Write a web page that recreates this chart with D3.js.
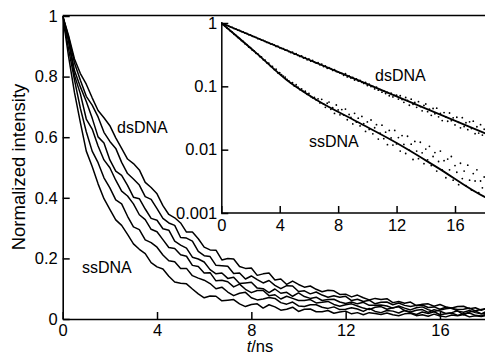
<!DOCTYPE html>
<html><head><meta charset="utf-8">
<script src="https://cdn.jsdelivr.net/npm/d3@7"></script>
<style>body{margin:0;background:#fff}svg{display:block}text{font-family:"Liberation Sans",Arial,sans-serif;fill:#000}</style>
</head><body><svg id="c" width="485" height="355"></svg>
<script>
// time axis of the main panel (ns), 0.25 ns sampling
const times = [0,0.25,0.5,0.75,1,1.25,1.5,1.75,2,2.25,2.5,2.75,3,3.25,3.5,3.75,4,4.25,4.5,4.75,5,5.25,5.5,5.75,6,6.25,6.5,6.75,7,7.25,7.5,7.75,8,8.25,8.5,8.75,9,9.25,9.5,9.75,10,10.25,10.5,10.75,11,11.25,11.5,11.75,12,12.25,12.5,12.75,13,13.25,13.5,13.75,14,14.25,14.5,14.75,15,15.25,15.5,15.75,16,16.25,16.5,16.75,17,17.25,17.5,17.75,18,18.25,18.5];

// main panel decays (dsDNA at top ... ssDNA at bottom)
const decayA = [1,.935,.858,.81,.775,.73,.688,.664,.638,.598,.563,.528,.513,.492,.451,.434,.413,.374,.345,.334,.317,.287,.287,.265,.237,.228,.227,.195,.2,.198,.173,.167,.168,.144,.149,.152,.129,.132,.114,.125,.114,.105,.109,.098,.09,.095,.093,.081,.082,.073,.079,.07,.063,.068,.064,.067,.054,.058,.052,.056,.044,.049,.05,.042,.048,.04,.036,.041,.042,.034,.037,.029,.035,.032,.028];
const decayB = [1,.93,.845,.788,.735,.706,.667,.616,.586,.563,.517,.48,.462,.442,.404,.395,.364,.332,.317,.309,.269,.267,.257,.223,.209,.206,.177,.176,.174,.15,.152,.132,.142,.13,.119,.127,.111,.1,.11,.109,.091,.093,.083,.089,.079,.072,.077,.072,.075,.061,.065,.058,.062,.05,.055,.056,.047,.053,.045,.041,.045,.046,.038,.04,.032,.039,.035,.031,.032,.036,.027,.031,.035,.026,.021];
const decayC = [1,.921,.82,.766,.718,.663,.601,.581,.525,.488,.474,.441,.402,.397,.363,.332,.326,.298,.293,.257,.244,.234,.204,.198,.188,.163,.149,.152,.134,.138,.117,.119,.121,.102,.1,.087,.099,.085,.088,.075,.086,.074,.068,.072,.061,.064,.065,.056,.051,.056,.05,.055,.045,.045,.046,.043,.036,.043,.036,.03,.037,.04,.031,.025,.03,.034,.036,.026,.022,.028,.021,.017,.026,.029,.021];
const decayD = [1,.916,.804,.743,.66,.627,.571,.525,.499,.458,.422,.406,.38,.344,.328,.296,.288,.262,.236,.233,.212,.207,.177,.173,.152,.153,.126,.128,.123,.106,.115,.098,.087,.094,.094,.077,.08,.066,.075,.068,.061,.061,.064,.053,.055,.058,.048,.042,.047,.05,.043,.036,.031,.039,.041,.032,.037,.04,.028,.023,.029,.031,.022,.031,.026,.018,.021,.027,.014,.023,.027,.017,.017,.023,.012];
const decayE = [1,.891,.789,.695,.618,.554,.516,.466,.433,.393,.38,.339,.304,.295,.261,.252,.237,.211,.192,.189,.167,.167,.143,.135,.128,.117,.1,.105,.089,.077,.085,.088,.07,.063,.066,.071,.068,.054,.049,.056,.043,.041,.047,.047,.039,.035,.04,.031,.032,.037,.033,.025,.035,.025,.021,.028,.026,.02,.028,.021,.015,.023,.018,.024,.014,.017,.02,.012,.017,.02,.012,.01,.016,.012,.017];
const decayF = [1,.866,.747,.648,.554,.503,.446,.397,.362,.327,.309,.279,.248,.23,.216,.186,.172,.165,.141,.122,.118,.116,.099,.083,.07,.076,.075,.06,.062,.064,.05,.041,.048,.05,.036,.047,.04,.029,.032,.039,.025,.032,.033,.024,.024,.028,.019,.023,.026,.017,.021,.014,.021,.018,.015,.02,.014,.011,.017,.019,.011,.014,.009,.016,.01,.007,.013,.011,.015,.007,.011,.008,.012,.004,.009];
const mainSeries = [decayA, decayB, decayC, decayD, decayE, decayF];

// inset (log scale): measured points at 0.125 ns sampling and fitted curves
const insetTimes = [0,0.125,0.25,0.375,0.5,0.625,0.75,0.875,1,1.125,1.25,1.375,1.5,1.625,1.75,1.875,2,2.125,2.25,2.375,2.5,2.625,2.75,2.875,3,3.125,3.25,3.375,3.5,3.625,3.75,3.875,4,4.125,4.25,4.375,4.5,4.625,4.75,4.875,5,5.125,5.25,5.375,5.5,5.625,5.75,5.875,6,6.125,6.25,6.375,6.5,6.625,6.75,6.875,7,7.125,7.25,7.375,7.5,7.625,7.75,7.875,8,8.125,8.25,8.375,8.5,8.625,8.75,8.875,9,9.125,9.25,9.375,9.5,9.625,9.75,9.875,10,10.125,10.25,10.375,10.5,10.625,10.75,10.875,11,11.125,11.25,11.375,11.5,11.625,11.75,11.875,12,12.125,12.25,12.375,12.5,12.625,12.75,12.875,13,13.125,13.25,13.375,13.5,13.625,13.75,13.875,14,14.125,14.25,14.375,14.5,14.625,14.75,14.875,15,15.125,15.25,15.375,15.5,15.625,15.75,15.875,16,16.125,16.25,16.375,16.5,16.625,16.75,16.875,17,17.125,17.25,17.375,17.5,17.625,17.75,17.875,18];
const dsPoints = [1,.97,.951,.915,.9,.866,.852,.818,.808,.773,.764,.731,.722,.69,.684,.655,.648,.618,.611,.594,.566,.562,.538,.533,.512,.494,.49,.468,.463,.452,.427,.431,.405,.397,.394,.373,.372,.355,.342,.348,.322,.327,.308,.297,.302,.28,.283,.262,.27,.25,.256,.24,.232,.236,.219,.225,.205,.21,.193,.197,.19,.178,.183,.171,.168,.162,.16,.149,.158,.141,.146,.135,.138,.126,.131,.121,.124,.116,.111,.115,.103,.108,.099,.1,.091,.097,.087,.089,.081,.085,.077,.08,.071,.078,.068,.072,.0723,.0629,.071,.062,.056,.0666,.06,.0503,.0628,.0519,.0558,.0466,.0573,.0479,.041,.0499,.0526,.0398,.0435,.0349,.0447,.0369,.0452,.033,.0375,.0288,.0385,.0328,.0281,.0379,.0287,.0318,.0246,.0325,.027,.0221,.032,.0232,.0266,.0207,.0275,.0216,.0282,.0179,.023,.0183,.0248,.017,.021];
const ssPoints = [1,.94,.9,.835,.801,.745,.716,.664,.64,.592,.571,.528,.51,.47,.456,.418,.408,.373,.363,.333,.326,.296,.291,.262,.259,.234,.232,.207,.206,.184,.186,.163,.164,.153,.145,.14,.129,.122,.113,.114,.101,.106,.097,.089,.091,.083,.084,.075,.077,.069,.066,.067,.061,.0634,.0548,.0624,.0527,.0467,.0541,.0565,.0433,.0459,.0373,.0507,.0424,.0355,.0429,.0352,.0438,.0297,.0359,.0324,.0255,.0375,.0272,.0314,.0237,.0335,.0257,.0194,.0274,.0209,.0294,.0178,.0222,.0248,.0147,.0182,.0244,.0149,.0189,.012,.0201,.0153,.0118,.0201,.0123,.0155,.0095,.0167,.0121,.0087,.0163,.0098,.0122,.007,.0135,.0095,.0072,.0131,.0089,.006,.0102,.0069,.0113,.0056,.0078,.009,.0046,.0065,.0095,.0048,.0067,.0036,.0071,.0048,.0078,.0033,.0056,.0044,.0028,.0061,.0035,.0046,.0027,.0057,.0033,.0023,.0042,.0032,.0048,.0021,.0032,.0025,.0037];
const dsFitT = [0,6,12,18.5];
const dsFit  = [1,.263,.0695,.0164];
const ssFitT = [0,2.42,4.48,6.53,9.27,12.01,14.75,18.06,18.5];
const ssFit  = [1,.332,.126,.0608,.0278,.0127,.0053,.00178,.0016];

// tick labels
const mainXTicks = [0,4,8,12,16];
const mainYTicks = [0,0.2,0.4,0.6,0.8,1];
const mainYLabels = ["0","0.2","0.4","0.6","0.8","1"];
const insetXTicks = [0,4,8,12,16];
const insetYTicks = [0.001,0.01,0.1,1];
const insetYLabels = ["0.001","0.01","0.1","1"];

const svg = d3.select("#c");
const FS = 16.5;

// ---------- main panel ----------
const x = d3.scaleLinear().domain([0,18]).range([62.7, 62.7+18*23.58]);
const y = d3.scaleLinear().domain([0,1]).range([319, 16]);

svg.append("defs").append("clipPath").attr("id","mclip")
  .append("rect").attr("x",x(0)).attr("y",y(1)-2).attr("width",485-x(0)).attr("height",y(0)-y(1)+2);

const line = d3.line().x((d,i)=>x(times[i])).y(d=>y(d));
svg.append("g").attr("clip-path","url(#mclip)").selectAll("path").data(mainSeries).join("path")
  .attr("d", d=>line(d)).attr("fill","none").attr("stroke","#000").attr("stroke-width",1.5).attr("stroke-linejoin","round");

const gx = svg.append("g").attr("transform",`translate(0,${y(0)})`)
  .call(d3.axisBottom(x).tickValues(mainXTicks).tickSizeInner(-7).tickSizeOuter(0).tickPadding(5).tickFormat(d3.format("d")));
const gy = svg.append("g").attr("transform",`translate(${x(0)},0)`)
  .call(d3.axisLeft(y).tickValues(mainYTicks).tickSizeInner(-7).tickSizeOuter(0).tickPadding(5).tickFormat((d,i)=>mainYLabels[i]));
[gx,gy].forEach(g=>{
  g.select(".domain").attr("stroke","#000").attr("stroke-width",1.6);
  g.selectAll(".tick line").attr("stroke","#000").attr("stroke-width",1.5);
  g.selectAll(".tick text").attr("font-size",FS).attr("font-family","Liberation Sans, Arial, sans-serif");
});
// top frame line
svg.append("line").attr("x1",x(0)).attr("x2",485).attr("y1",y(1)-0.5).attr("y2",y(1)-0.5).attr("stroke","#000").attr("stroke-width",1.6);

svg.append("text").attr("transform","translate(25,167) rotate(-90)").attr("text-anchor","middle")
  .attr("font-size",18.5).text("Normalized intensity");
const xl = svg.append("text").attr("x",260).attr("y",352).attr("text-anchor","middle").attr("font-size",16.5);
xl.append("tspan").attr("font-style","italic").text("t");
xl.append("tspan").text("/ns");

svg.append("text").attr("x",117).attr("y",133).attr("font-size",16).text("dsDNA");
svg.append("text").attr("x",82).attr("y",273).attr("font-size",16).text("ssDNA");

// ---------- inset ----------
const xi = d3.scaleLinear().domain([0,16]).range([221.3, 455]);
const yi = d3.scaleLog().domain([0.001,1]).range([213, 23]);

svg.append("defs").append("clipPath").attr("id","iclip")
  .append("rect").attr("x",xi(0)).attr("y",yi(1)-4).attr("width",485-xi(0)).attr("height",yi(0.001)-yi(1)+4);
const gi = svg.append("g").attr("clip-path","url(#iclip)");

const ptsDs = dsPoints.map((v,i)=>[insetTimes[i],v]).filter(d=>d[0]!==undefined);
const ptsSs = ssPoints.map((v,i)=>[insetTimes[i],v]).filter(d=>d[0]!==undefined);
gi.selectAll("circle.ds").data(ptsDs).join("circle").attr("class","ds")
  .attr("cx",d=>xi(d[0])).attr("cy",d=>yi(d[1])).attr("r",0.9).attr("fill","#000");
gi.selectAll("circle.ss").data(ptsSs).join("circle").attr("class","ss")
  .attr("cx",d=>xi(d[0])).attr("cy",d=>yi(d[1])).attr("r",0.9).attr("fill","#000");

const fitLine = d3.line().x(d=>xi(d[0])).y(d=>yi(d[1])).curve(d3.curveMonotoneX);
gi.append("path").attr("d",fitLine(dsFitT.map((t,i)=>[t,dsFit[i]]))).attr("fill","none").attr("stroke","#000").attr("stroke-width",1.8);
gi.append("path").attr("d",fitLine(ssFitT.map((t,i)=>[t,ssFit[i]]))).attr("fill","none").attr("stroke","#000").attr("stroke-width",1.8);

const gix = svg.append("g").attr("transform",`translate(0,${yi(0.001)})`)
  .call(d3.axisBottom(xi).tickValues(insetXTicks).tickSizeInner(-7).tickSizeOuter(0).tickPadding(6).tickFormat(d3.format("d")));
gix.select(".domain").attr("d",`M${xi(0)},0H485`);
const giy = svg.append("g").attr("transform",`translate(${xi(0)},0)`)
  .call(d3.axisLeft(yi).tickValues(insetYTicks).tickSizeInner(-7).tickSizeOuter(0).tickPadding(4).tickFormat((d,i)=>insetYLabels[i]));
[gix,giy].forEach(g=>{
  g.select(".domain").attr("stroke","#000").attr("stroke-width",1.5);
  g.selectAll(".tick line").attr("stroke","#000").attr("stroke-width",1.5);
  g.selectAll(".tick text").attr("font-size",FS).attr("font-family","Liberation Sans, Arial, sans-serif");
});

svg.append("text").attr("x",375).attr("y",81).attr("font-size",16).text("dsDNA");
svg.append("text").attr("x",309).attr("y",147).attr("font-size",16).text("ssDNA");
</script></body></html>
